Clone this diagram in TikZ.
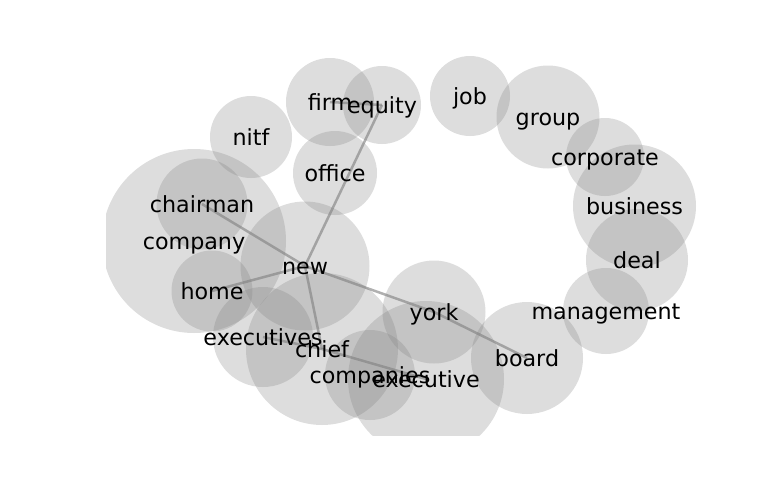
\documentclass[tikz,border=0pt]{standalone}
\usepackage{fontspec}
\setmainfont{DejaVu Sans}
\begin{document}
\begin{tikzpicture}[x=0.72pt,y=-0.72pt,
  bub/.style={circle, fill=gray, fill opacity=0.27, draw=none, inner sep=0pt, minimum size={#1*1.44pt}},
  edge/.style={draw=gray, draw opacity=0.62, line width=1.8pt},
  lbl/.style={anchor=base, inner sep=0pt, font=\fontsize{16pt}{19pt}\selectfont, text=black}]
\useasboundingbox (0,0) rectangle (768,500);
\begin{scope}
\clip (106,40) rectangle (720,435);
\node[bub=44]   (firm)       at (330,102) {};
\node[bub=39]   (equity)     at (382,105) {};
\node[bub=42]   (office)     at (335,173) {};
\node[bub=41]   (nitf)       at (251,137) {};
\node[bub=40]   (job)        at (470,96) {};
\node[bub=51.5] (group)      at (548,117) {};
\node[bub=39]   (corporate)  at (605,157) {};
\node[bub=61.5] (business)   at (634.5,206) {};
\node[bub=51]   (deal)       at (637,260) {};
\node[bub=43]   (management) at (606,311) {};
\node[bub=56]   (board)      at (527,358) {};
\node[bub=51.5] (york)       at (434,312) {};
\node[bub=78]   (executive)  at (426,379) {};
\node[bub=45]   (companies)  at (370,375) {};
\node[bub=76]   (chief)      at (322,349) {};
\node[bub=64.5] (new)        at (305,266) {};
\node[bub=92]   (company)    at (194,241) {};
\node[bub=45.5] (chairman)   at (202,204) {};
\node[bub=40.5] (home)       at (212,291) {};
\node[bub=50]   (executives) at (263,337) {};
\end{scope}
\draw[edge] (new.center) -- (chairman.center);
\draw[edge] (new.center) -- (home.center);
\draw[edge] (new.center) -- (equity.center);
\draw[edge] (new.center) -- (chief.center);
\draw[edge] (new.center) -- (york.center);
\draw[edge] (york.center) -- (board.center);
\draw[edge] (chief.center) -- (executive.center);
\draw[edge] (executives.center) -- (chief.center);
\draw[edge] (firm.center) -- (equity.center);
\foreach \n in {firm,equity,office,nitf,job,group,corporate,business,deal,management,board,york,executive,companies,chief,new,company,chairman,home,executives}{
  \node[lbl] (\n-t) at ([yshift=-5.76pt]\n.center) {\n};
}
\end{tikzpicture}
\end{document}
